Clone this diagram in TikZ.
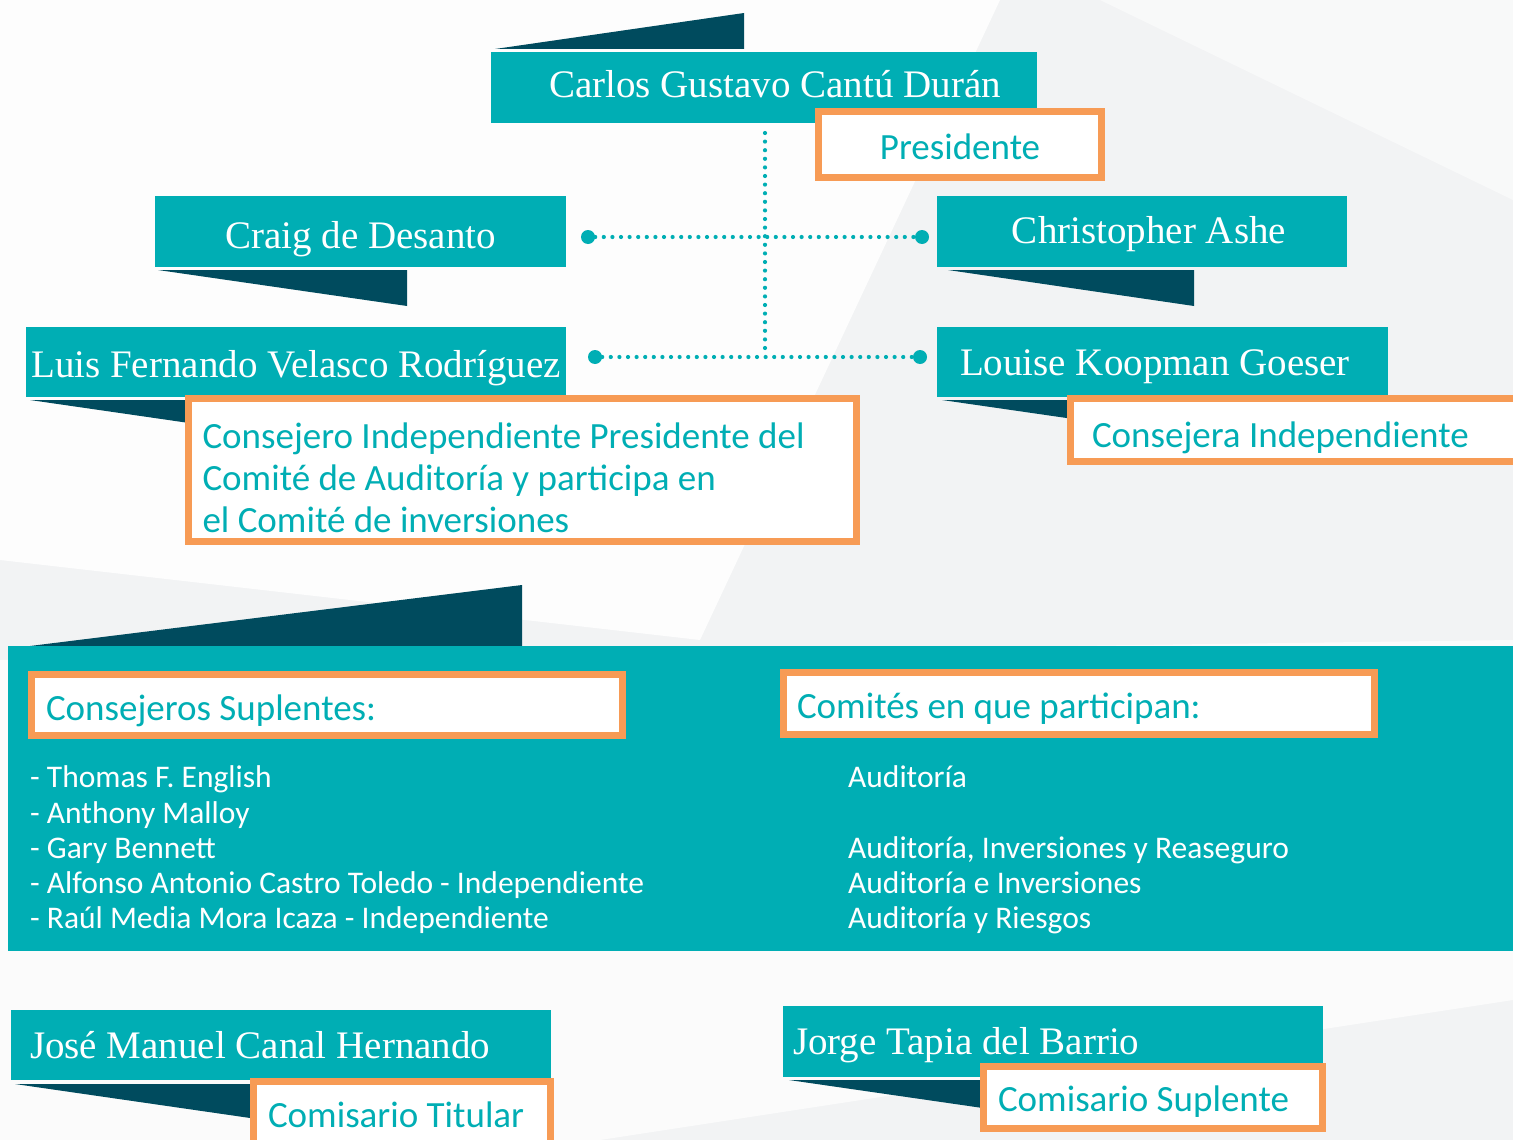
\documentclass[tikz,border=0pt]{standalone}
\usepackage{fontspec}
\setmainfont{Liberation Serif}
\newfontfamily\sansf{Carlito}
\newcommand\resetsp{\spaceskip=0pt\relax\xspaceskip=0pt\relax}
\definecolor{teal1}{HTML}{00AEB4}
\definecolor{dark1}{HTML}{004B5E}
\definecolor{orng}{HTML}{F79B55}
\definecolor{bgc}{HTML}{F2F3F4}
\begin{document}
\begin{tikzpicture}[x=1pt,y=-1pt,
  namebox/.style={fill=teal1, text=white, inner sep=0pt, outer sep=0pt, anchor=north west,
    font=\fontsize{39}{44}\selectfont, text height=34pt, text depth=8pt},
  rolebox/.style={draw=orng, line width=7pt, fill=white, text=teal1, inner sep=0pt,
    anchor=north west, font=\sansf\fontsize{37}{42}\selectfont, text height=35pt, text depth=5pt},
  flap/.style={fill=dark1},
  dotline/.style={teal1, line width=4.2pt, dash pattern=on 0pt off 8.6pt, line cap=round},
  enddot/.style={circle, fill=teal1, inner sep=0pt, minimum size=14pt},
  listtext/.style={text=white, font=\sansf\fontsize{31.5}{35}\selectfont, anchor=base west, inner sep=0pt}
]
\useasboundingbox (0,0) rectangle (1513,1140);
% background
\fill[bgc] (0,0) rectangle (1513,1140);
\fill[white,opacity=0.85] (0,0) -- (1000,0) -- (700,640) -- (0,560) -- cycle;
\fill[white,opacity=0.7] (0,660) -- (1513,640) -- (1513,1000) -- (600,1140) -- (0,1140) -- cycle;
\fill[white,opacity=0.5] (1100,0) -- (1513,0) -- (1513,200) -- cycle;

% flaps
\fill[flap] (495,49) -- (744,13) -- (744,49) -- cycle;
\fill[flap] (158,270) -- (407,270) -- (407,306) -- cycle;
\fill[flap] (948,270) -- (1194,270) -- (1194,306) -- cycle;
\fill[flap] (30,400) -- (279,400) -- (279,436) -- cycle;
\fill[flap] (942,400) -- (1191,400) -- (1191,436) -- cycle;
\fill[flap] (30,646) -- (522,585) -- (522,646) -- cycle;
\fill[flap] (15,1084) -- (264,1084) -- (264,1120) -- cycle;
\fill[flap] (789,1080) -- (1038,1080) -- (1038,1116) -- cycle;

% name boxes
\node[namebox, minimum width=546pt, minimum height=71pt,
  text height=28pt, text depth=9pt] (carlos) at (491,52) {\hspace*{22pt}Carlos Gustavo Cantú Durán};
\node[namebox, minimum width=411pt, minimum height=71pt,
  text height=40pt, text depth=7pt] (craig) at (155,196) {Craig de Desanto};
\node[namebox, minimum width=410pt, minimum height=71pt,
  text height=31pt, text depth=8pt] (ashe) at (937,196) {\hspace*{14pt}Christopher Ashe};
\node[namebox, minimum width=540pt, minimum height=70pt,
  text height=38pt, text depth=8pt] (luis) at (26,327) {Luis Fernando Velasco Rodríguez};
\node[namebox, minimum height=70pt, text width=405pt, inner xsep=23pt, align=flush left] (louise) at (937,327) {\resetsp Louise Koopman Goeser};
\node[namebox, minimum height=70pt, text width=502pt, inner xsep=19pt, align=flush left] (jose) at (11,1010) {\resetsp José Manuel Canal Hernando};
\node[namebox, minimum height=71pt, text width=520pt, inner xsep=10pt, align=flush left,
  text height=33pt, text depth=8pt] (jorge) at (783,1006) {\resetsp Jorge Tapia del Barrio};

% role boxes
\node[rolebox, minimum width=283pt, minimum height=66pt] (pres) at (815,108) {Presidente};
\node[rolebox, minimum height=143pt, text width=640pt, inner xsep=14pt, align=flush left,
  text height=, text depth=] (luisrole) at (185,395)
  {\resetsp\rule{0pt}{41pt}Consejero Independiente Presidente del\\Comité de Auditoría y participa en\\el Comité de inversiones};
\node[rolebox, minimum height=63pt, text width=440pt, inner xsep=21.5pt, align=flush left,
  text height=38pt, text depth=4pt] (louiserole) at (1067,395) {\resetsp Consejera Independiente};
\node[rolebox, minimum height=62pt, text width=268pt, inner xsep=14.5pt, align=flush left] (josrole) at (250,1078) {\resetsp Comisario Titular};
\node[rolebox, minimum height=62pt, text width=310pt, inner xsep=14.5pt, align=flush left,
  text height=34pt, text depth=6pt] (jorrole) at (980,1063) {\resetsp Comisario Suplente};

% connectors
\coordinate (vtop) at (765,133);
\coordinate (vbot) at (765,350);
\node[enddot] (d1) at (588,237) {};
\node[enddot] (d2) at (922,237) {};
\node[enddot] (d3) at (595,357) {};
\node[enddot] (d4) at (920,357) {};
\draw[dotline] (vtop) -- (vbot);
\draw[dotline] (d1) -- (d2);
\draw[dotline] (d3) -- (d4);

% panel
\node[fill=teal1, inner sep=0pt, outer sep=0pt, anchor=north west, minimum width=1512pt, minimum height=305pt] (panel) at (8,646) {};
\node[rolebox, minimum height=61pt, text width=562pt, inner xsep=14.5pt, align=flush left] (hsup) at (28,671) {\resetsp Consejeros Suplentes:};
\node[rolebox, minimum height=62pt, text width=564pt, inner xsep=13.5pt, align=flush left] (hcom) at (780,669) {\resetsp Comités en que participan:};

\node[listtext] (s1) at (30,787) {- Thomas F. English};
\node[listtext] (s2) at (30,823) {- Anthony Malloy};
\node[listtext] (s3) at (30,858) {- Gary Bennett};
\node[listtext] (s4) at (30,893) {- Alfonso Antonio Castro Toledo - Independiente};
\node[listtext] (s5) at (30,928) {- Raúl Media Mora Icaza - Independiente};

\node[listtext] (c1) at (848,787) {Auditoría};
\node[listtext] (c2) at (848,858) {Auditoría, Inversiones y Reaseguro};
\node[listtext] (c3) at (848,893) {Auditoría e Inversiones};
\node[listtext] (c4) at (848,928) {Auditoría y Riesgos};
\end{tikzpicture}
\end{document}
